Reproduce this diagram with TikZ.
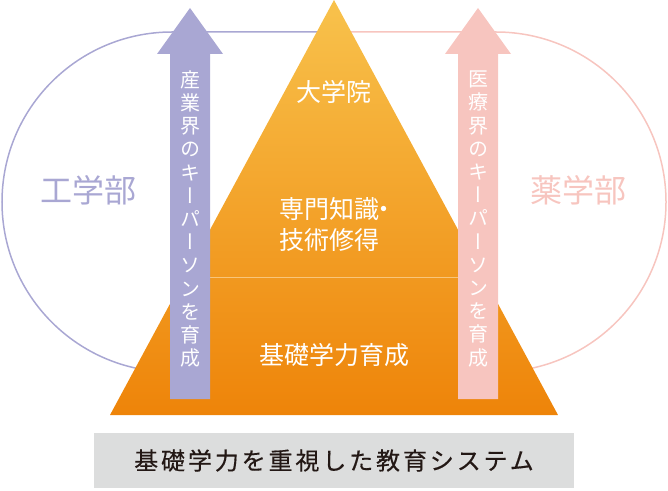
\documentclass[tikz,border=0pt]{standalone}
\usepackage{fontspec}
\setmainfont{Noto Sans CJK JP}
\newfontfamily\jpvert[RawFeature=+vert]{Noto Sans CJK JP}
\newfontfamily\jpbar[LetterSpace=12,FakeBold=0.4]{Noto Sans CJK JP}
\usetikzlibrary{positioning}
\definecolor{kogaku}{HTML}{A9A7D3}
\definecolor{yakugaku}{HTML}{F7C5BF}
\definecolor{toporange}{HTML}{F8C24C}
\definecolor{botorange}{HTML}{EE8409}
\definecolor{divline}{HTML}{F8C57A}
\definecolor{bargray}{HTML}{DCDDDD}
\definecolor{ink}{HTML}{231815}
\tikzset{
  ring/.style={line width=1.5pt},
  vlabel/.style={text=white,align=center,inner sep=0pt,
    font=\jpvert\fontsize{20}{23.2}\selectfont},
  plabel/.style={text=white,align=center,inner sep=0pt,
    font=\fontsize{25}{31}\selectfont},
  dept/.style={inner sep=0pt,font=\fontsize{32}{38}\selectfont}
}

\begin{document}
\begin{tikzpicture}[x=1pt,y=1pt]
    \useasboundingbox (0,0) rectangle (668,490);
    % the two departments
    \draw [ring,kogaku] (334,458) -- (172,458)
      arc [start angle=90,end angle=270,radius=170] -- (334,118);
    \draw [ring,yakugaku] (334,458) -- (496,458)
      arc [start angle=90,end angle=-90,radius=170] -- (334,118);
    % pyramid
    \shade [top color=toporange,bottom color=botorange]
      (334,490) -- (558,75) -- (110,75) -- cycle;
    \draw [divline,line width=0.8pt] (210,213) -- (458,213);
    % arrows
    \fill [kogaku] (170,91) -- (170,436) -- (157,436) -- (190,482)
      -- (223,436) -- (210,436) -- (210,91) -- cycle;
    \fill [yakugaku] (458,91) -- (458,436) -- (445,436) -- (478,482)
      -- (511,436) -- (498,436) -- (498,91) -- cycle;
    \node (eng) [dept,text=kogaku] at (88,300) {工学部};
    \node (phar) [dept,text=yakugaku] at (578,300) {薬学部};
    \node (grad) [plabel] at (334,398) {大学院};
    \node (spec) [plabel,align=left,anchor=west] at (279,265)
      {専門知識\kern-8pt・\\技術修得};
    \node (basic) [plabel] at (334,135) {基礎学力育成};
    \node (indkey) [vlabel] at (190,271)
      {産\\業\\界\\の\\キ\\ー\\パ\\ー\\ソ\\ン\\を\\育\\成};
    \node (medkey) [vlabel] at (478,271)
      {医\\療\\界\\の\\キ\\ー\\パ\\ー\\ソ\\ン\\を\\育\\成};
    \node (sys) [fill=bargray,text=ink,minimum width=480,minimum height=55,
      font=\jpbar\fontsize{24}{28}\selectfont] at (334,29.5)
      {基礎学力を重視した教育システム};
  \end{tikzpicture}
\end{document}
